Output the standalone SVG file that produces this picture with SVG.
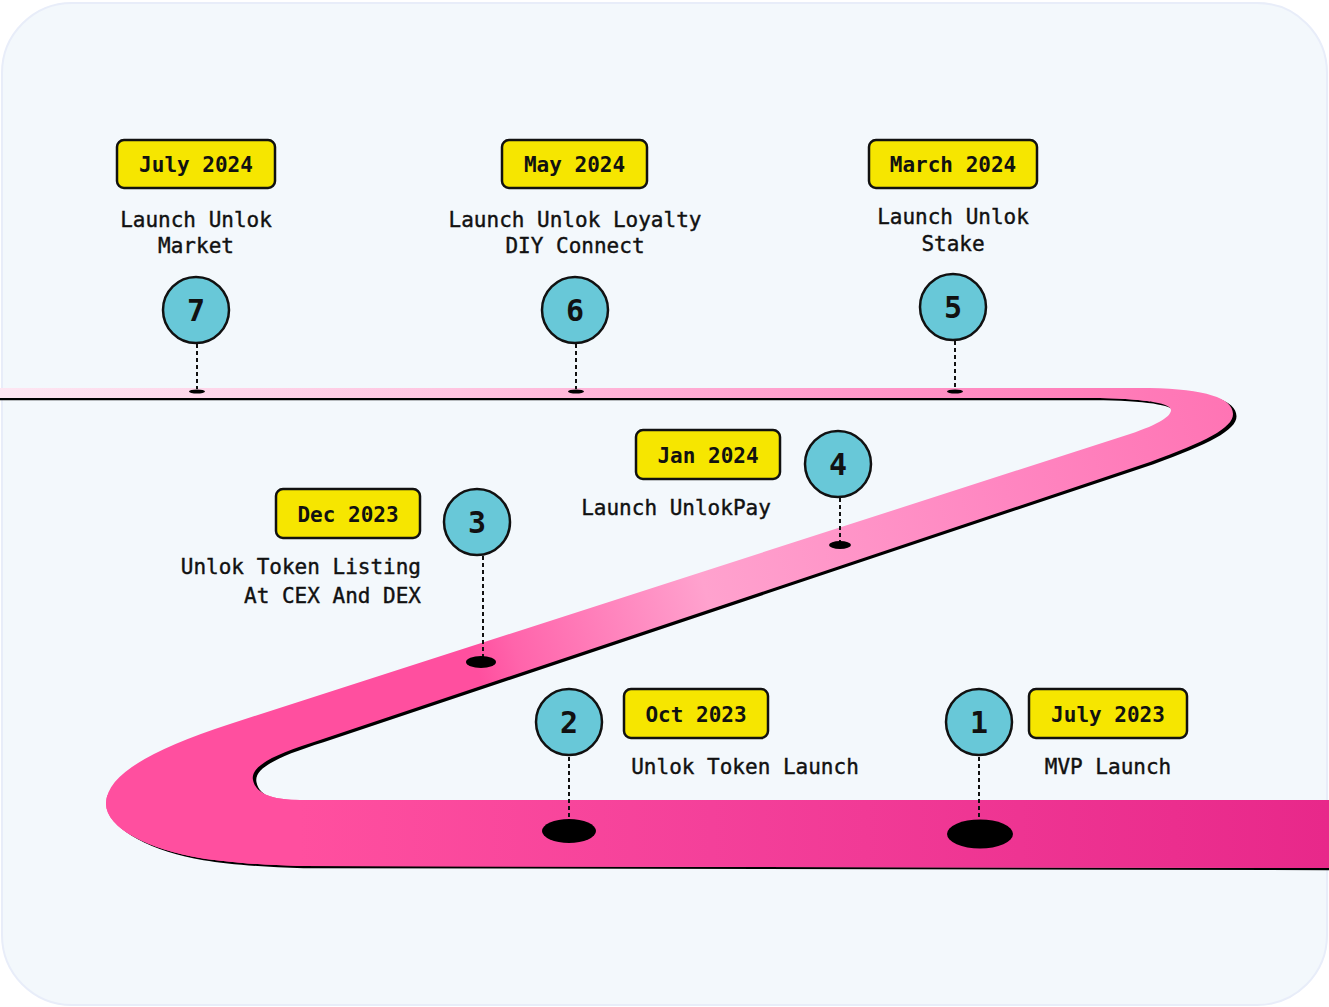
<svg xmlns="http://www.w3.org/2000/svg" xmlns:xlink="http://www.w3.org/1999/xlink" width="1329" height="1007" viewBox="0 0 1329 1007">
<style>
.badge{fill:#f6e600;stroke:#111;stroke-width:2.5}
.date{font-family:"DejaVu Sans Mono","Liberation Mono",monospace;font-weight:bold;font-size:21px;fill:#111;text-anchor:middle}
.lbl{font-family:"DejaVu Sans Mono","Liberation Mono",monospace;font-size:21px;fill:#111;stroke:#111;stroke-width:0.4}
.pin{fill:#68c8d8;stroke:#111;stroke-width:2.5}
.num{font-family:"DejaVu Sans Mono","Liberation Mono",monospace;font-weight:bold;font-size:30px;fill:#111;text-anchor:middle}
.dot{stroke:#111;stroke-width:2;stroke-dasharray:4 3;fill:none}
.hole{fill:#000}
</style>
<defs>
<path id="road" d="M-10,388 L1150,388 C1205,389 1233,398 1233,414 C1233,428 1205,442 1150,462 L320,740 C275,754 250,766 253,780 C256,795 275,800 300,800 L1329,800 L1329,868 L300,866 C260,865 225,862 200,858 C150,850 105,828 106,803 C107,775 150,750 230,724 L1130,434 C1160,424 1171,416 1171,410 C1171,404 1150,399 1100,398 L-10,398 Z"/>
<linearGradient id="g1" gradientUnits="userSpaceOnUse" x1="0" y1="0" x2="1150" y2="0">
<stop offset="0" stop-color="#fde6f2"/>
<stop offset="0.4" stop-color="#ffc4e0"/>
<stop offset="0.75" stop-color="#ff98c9"/>
<stop offset="1" stop-color="#ff78b6"/>
</linearGradient>
<linearGradient id="g2" gradientUnits="userSpaceOnUse" x1="1233" y1="414" x2="230" y2="724">
<stop offset="0" stop-color="#ff74b4"/>
<stop offset="0.23" stop-color="#ff86c1"/>
<stop offset="0.53" stop-color="#ffa2ce"/>
<stop offset="0.72" stop-color="#ff64ab"/>
<stop offset="0.76" stop-color="#ff4f9f"/>
<stop offset="1" stop-color="#ff4f9f"/>
</linearGradient>
<linearGradient id="g3" gradientUnits="userSpaceOnUse" x1="300" y1="0" x2="1329" y2="0">
<stop offset="0" stop-color="#ff4f9f"/>
<stop offset="0.4" stop-color="#f4409a"/>
<stop offset="1" stop-color="#e8288a"/>
</linearGradient>
<clipPath id="cTop"><rect x="-20" y="370" width="1170" height="35"/></clipPath>
<clipPath id="cBot"><rect x="-20" y="795" width="1360" height="90"/></clipPath>
</defs>

<rect x="2" y="3" width="1325" height="1002" rx="70" fill="#f3f8fc" stroke="#e8edf9" stroke-width="2"/>

<g id="road-group">
<use xlink:href="#road" href="#road" fill="#000" transform="translate(3.5,2.2)"/>
<use xlink:href="#road" href="#road" fill="url(#g2)"/>
<use xlink:href="#road" href="#road" fill="url(#g1)" clip-path="url(#cTop)"/>
<use xlink:href="#road" href="#road" fill="url(#g3)" clip-path="url(#cBot)"/>
</g>

<g id="connectors">
<line class="dot" x1="197" y1="344" x2="197" y2="389"/>
<line class="dot" x1="576" y1="344" x2="576" y2="389"/>
<line class="dot" x1="955" y1="341" x2="955" y2="389"/>
<line class="dot" x1="840" y1="498" x2="840" y2="542"/>
<line class="dot" x1="483" y1="556" x2="483" y2="657"/>
<line class="dot" x1="569" y1="757" x2="569" y2="821"/>
<line class="dot" x1="979" y1="757" x2="979" y2="821"/>
<ellipse class="hole" cx="197" cy="391.5" rx="8" ry="2"/>
<ellipse class="hole" cx="576" cy="391.5" rx="8" ry="2"/>
<ellipse class="hole" cx="955" cy="391.5" rx="8" ry="2"/>
<ellipse class="hole" cx="840" cy="545" rx="11" ry="4"/>
<ellipse class="hole" cx="481" cy="662" rx="15" ry="6"/>
<ellipse class="hole" cx="569" cy="831" rx="27" ry="12"/>
<ellipse class="hole" cx="980" cy="834" rx="33" ry="14.5"/>
</g>

<g id="m7">
<rect class="badge" x="117" y="140" width="158" height="48" rx="7"/>
<text class="date" x="196" y="172">July 2024</text>
<text class="lbl" x="196" y="227" text-anchor="middle">Launch Unlok</text>
<text class="lbl" x="196" y="253" text-anchor="middle">Market</text>
<circle class="pin" cx="196" cy="310" r="33"/>
<text class="num" x="196" y="321">7</text>
</g>

<g id="m6">
<rect class="badge" x="502" y="140" width="145" height="48" rx="7"/>
<text class="date" x="574.5" y="172">May 2024</text>
<text class="lbl" x="575" y="227" text-anchor="middle">Launch Unlok Loyalty</text>
<text class="lbl" x="575" y="253" text-anchor="middle">DIY Connect</text>
<circle class="pin" cx="575" cy="310" r="33"/>
<text class="num" x="575" y="321">6</text>
</g>

<g id="m5">
<rect class="badge" x="869" y="140" width="168" height="48" rx="7"/>
<text class="date" x="953" y="172">March 2024</text>
<text class="lbl" x="953" y="224" text-anchor="middle">Launch Unlok</text>
<text class="lbl" x="953" y="251" text-anchor="middle">Stake</text>
<circle class="pin" cx="953" cy="307" r="33"/>
<text class="num" x="953" y="318">5</text>
</g>

<g id="m4">
<rect class="badge" x="636" y="430" width="144" height="49" rx="7"/>
<text class="date" x="708" y="463">Jan 2024</text>
<text class="lbl" x="676" y="515" text-anchor="middle">Launch UnlokPay</text>
<circle class="pin" cx="838" cy="464" r="33"/>
<text class="num" x="838" y="475">4</text>
</g>

<g id="m3">
<rect class="badge" x="276" y="489" width="144" height="49" rx="7"/>
<text class="date" x="348" y="522">Dec 2023</text>
<text class="lbl" x="421" y="574" text-anchor="end">Unlok Token Listing</text>
<text class="lbl" x="421" y="603" text-anchor="end">At CEX And DEX</text>
<circle class="pin" cx="477" cy="522" r="33"/>
<text class="num" x="477" y="533">3</text>
</g>

<g id="m2">
<rect class="badge" x="624" y="689" width="144" height="49" rx="7"/>
<text class="date" x="696" y="722">Oct 2023</text>
<text class="lbl" x="745" y="774" text-anchor="middle">Unlok Token Launch</text>
<circle class="pin" cx="569" cy="722" r="33"/>
<text class="num" x="569" y="733">2</text>
</g>

<g id="m1">
<rect class="badge" x="1029" y="689" width="158" height="49" rx="7"/>
<text class="date" x="1108" y="722">July 2023</text>
<text class="lbl" x="1108" y="774" text-anchor="middle">MVP Launch</text>
<circle class="pin" cx="979" cy="722" r="33"/>
<text class="num" x="979" y="733">1</text>
</g>
</svg>
